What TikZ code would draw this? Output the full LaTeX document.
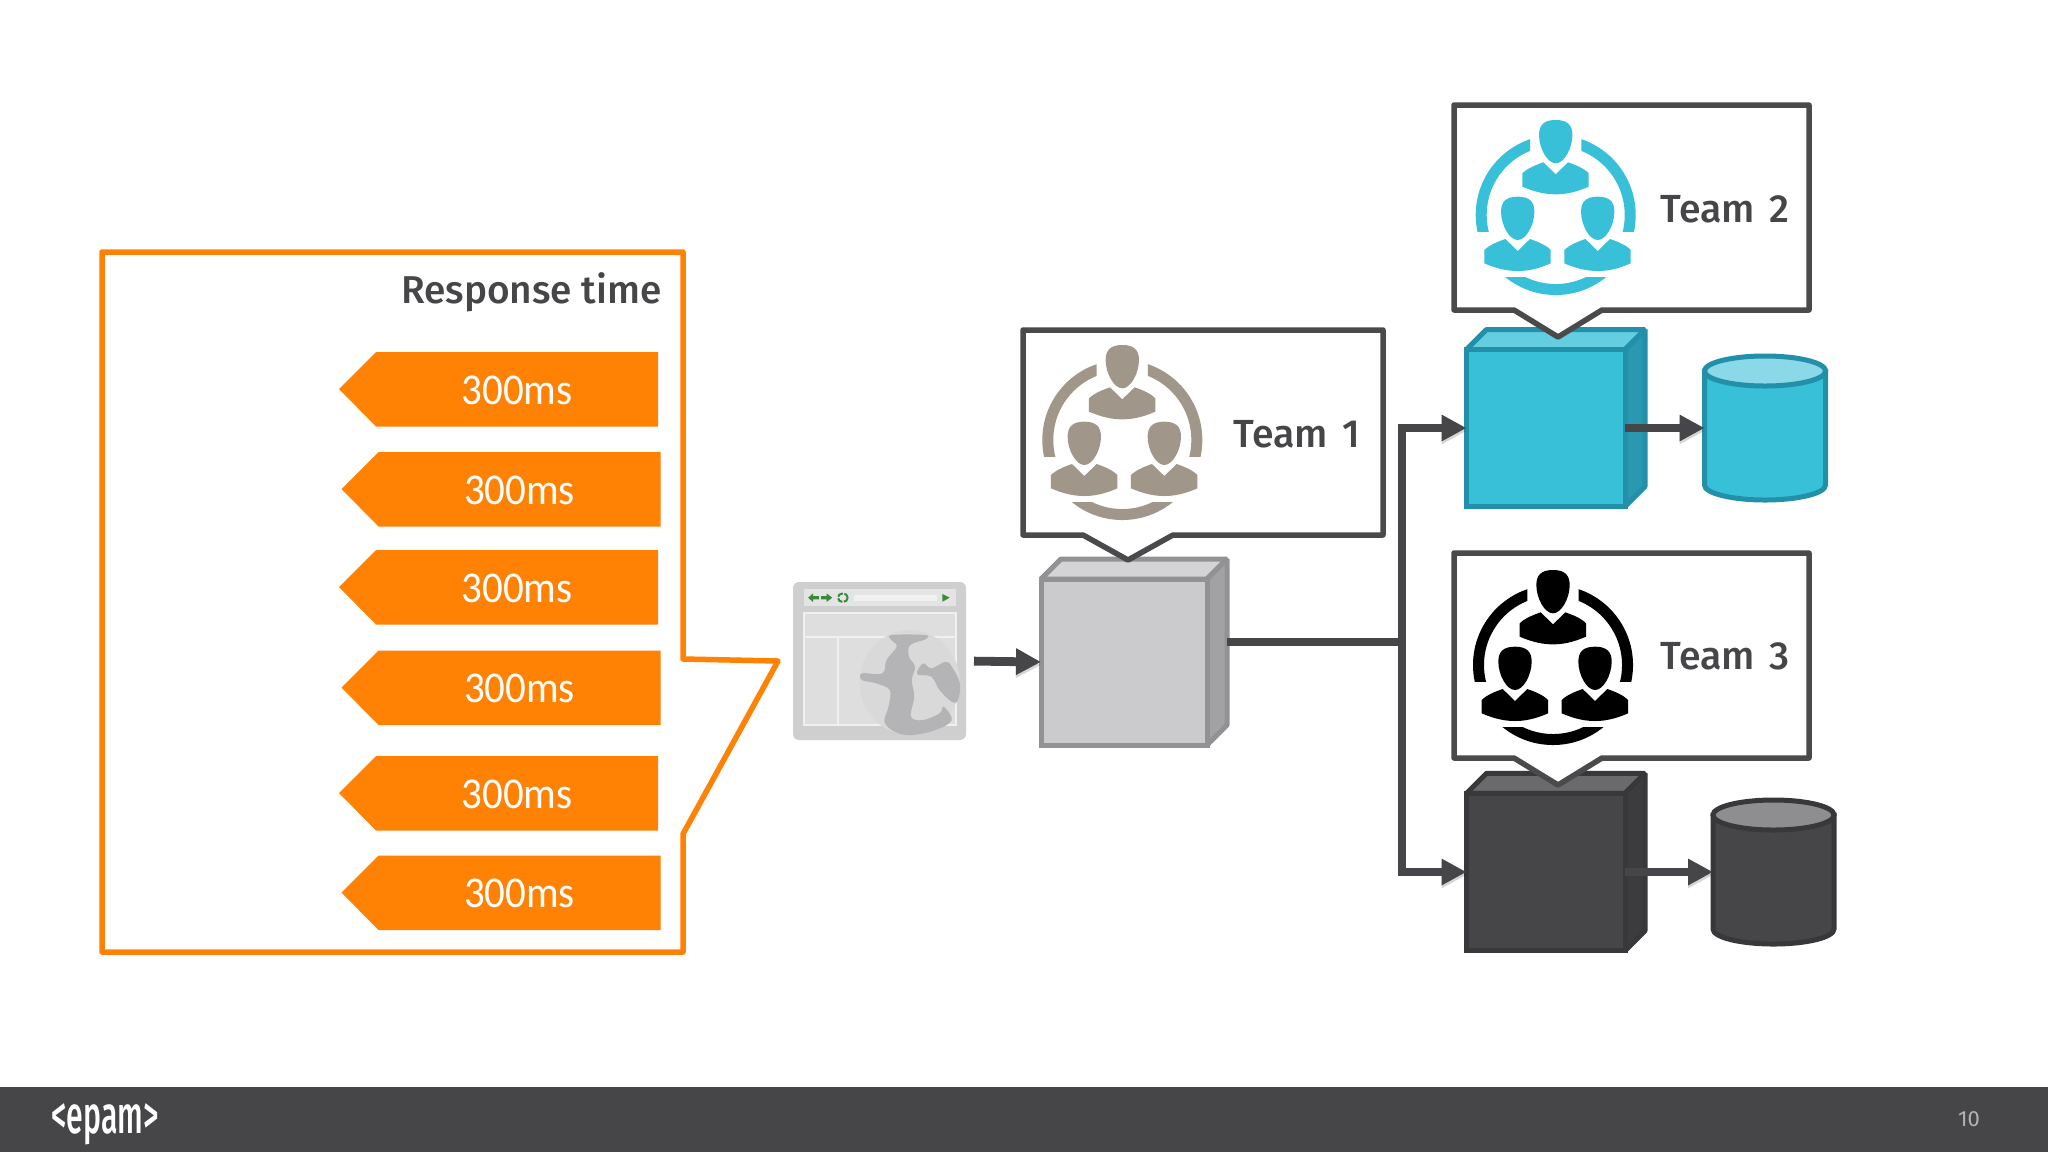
\documentclass[tikz,border=0pt]{standalone}
\usepackage{fontspec}
\setmainfont{Carlito}
\newfontfamily\headf{Fira Sans Medium}
\newfontfamily\logof{Fira Sans Medium}
\newfontfamily\numf{Fira Sans}
\usetikzlibrary{arrows.meta,calc}
\definecolor{inkc}{HTML}{464547}
\definecolor{orangec}{HTML}{FF8205}
\definecolor{linec}{HTML}{4A4A4C}
\definecolor{teamgray}{HTML}{A0978A}
\definecolor{teamcyan}{HTML}{38C0D9}
\definecolor{gfront}{HTML}{CBCACC}
\definecolor{gtop}{HTML}{D4D4D6}
\definecolor{gside}{HTML}{A2A2A4}
\definecolor{gstroke}{HTML}{929294}
\definecolor{cfront}{HTML}{38C0D9}
\definecolor{ctop}{HTML}{64CDE0}
\definecolor{cside}{HTML}{2A98AE}
\definecolor{cstroke}{HTML}{2190A8}
\definecolor{cdrumtop}{HTML}{8AD8E8}
\definecolor{dfront}{HTML}{464547}
\definecolor{dtop}{HTML}{6A696B}
\definecolor{dside}{HTML}{3C3B3D}
\definecolor{dstroke}{HTML}{38373A}
\definecolor{ddrumtop}{HTML}{8E8E90}
\definecolor{bwin}{HTML}{CFCFD0}
\definecolor{bbar}{HTML}{E4E4E4}
\definecolor{bpanel}{HTML}{DEDEDF}
\definecolor{bline}{HTML}{F0F0F0}
\definecolor{bgreen}{HTML}{3A8A3A}
\definecolor{bglobe}{HTML}{D9D9DA}
\definecolor{bland}{HTML}{B4B4B6}
\tikzset{
  x=.5pt,y=-.5pt,
  flow/.style={draw=inkc,line width=4.4pt,preaction={draw=black,opacity=.16,transform canvas={yshift=-1.5pt}}},
  flowtip/.style={flow,-{Triangle[length=12.5pt,width=12.5pt]}},
  bubble/.style={draw=linec,fill=white,line width=2.75pt,line join=round},
  facebox/.style={rectangle,draw,line width=2.5pt,outer sep=0pt,inner sep=0pt},
  cubepart/.style={line width=2.5pt,line join=bevel},
  holder/.style={rectangle,outer sep=0pt,inner sep=0pt},
  chip/.style={fill=orangec},
  chiptext/.style={text=white,anchor=base,inner sep=0pt,xscale=.93,font=\fontsize{22}{26}\selectfont},
  teamtext/.style={text=inkc,anchor=base west,inner sep=0pt,font=\headf\fontsize{19.6}{24}\selectfont},
}
% cube: name, cx, cy, w, h, dx, dy, front, top, side, stroke
\newcommand\cube[9]{%
  \filldraw[cubepart,draw=#9,fill=#7] ($(#2)+(-#3/2,-#4/2)$) -- ++(20,-20) -- ++(#3,0) -- ++(-20,20) -- cycle;
  \filldraw[cubepart,draw=#9,fill=#8] ($(#2)+(#3/2,-#4/2)$) -- ++(20,-20) -- ++(0,#4) -- ++(-20,20) -- cycle;
  \node[facebox,draw=#9,fill=#6,minimum width=#3*.5pt,minimum height=#4*.5pt] (#1) at (#2) {};
}
% drum: name, centre, fill, top, stroke
\newcommand\drum[5]{%
  \node[holder,minimum width=60.5pt,minimum height=72pt] (#1) at (#2) {};
  \begin{scope}[shift={(#2)}]
    \filldraw[draw=#5,fill=#3,line width=2.5pt] (-60.5,-57) -- (-60.5,57) .. controls (-60.5,65.3) and (-33.4,72) .. (0,72) .. controls (33.4,72) and (60.5,65.3) .. (60.5,57) -- (60.5,-57) -- cycle;
    \filldraw[draw=#5,fill=#4,line width=2.5pt] (-60.5,-57) .. controls (-60.5,-65.3) and (-33.4,-72) .. (0,-72) .. controls (33.4,-72) and (60.5,-65.3) .. (60.5,-57) .. controls (60.5,-48.7) and (33.4,-42) .. (0,-42) .. controls (-33.4,-42) and (-60.5,-48.7) .. (-60.5,-57) -- cycle;
  \end{scope}
}
% person in zoom units, origin at head top
\newcommand\person[3]{%
  \begin{scope}[shift={(#1,#2)}]
    \fill[#3] (0,0) .. controls (-35,0) and (-50,15) .. (-50,45) .. controls (-50,85) and (-25,130) .. (0,130) .. controls (25,130) and (50,85) .. (50,45) .. controls (50,15) and (35,0) .. (0,0) -- cycle;
    \fill[#3] (-100,160) .. controls (-85,145) and (-60,135) .. (-37,127) -- (0,163) -- (37,127) .. controls (60,135) and (85,145) .. (99,160) -- (99,200) .. controls (60,217) and (30,223) .. (0,223) .. controls (-30,223) and (-60,217) .. (-100,200) -- cycle;
  \end{scope}
}
% team icon centred on ring centre
\newcommand\teamicon[2]{%
  \begin{scope}[shift={(#1)},x=.1667pt,y=-.1667pt]
    \begin{scope}\clip (-250,-250) rectangle (-77,50);
      \fill[#2,even odd rule] (0,0) circle[radius=240] (0,0) circle[radius=207];\end{scope}
    \begin{scope}\clip (77,-250) rectangle (250,50);
      \fill[#2,even odd rule] (0,0) circle[radius=240] (0,0) circle[radius=207];\end{scope}
    \begin{scope}\clip (-250,188) rectangle (250,250);
      \fill[#2,even odd rule] (0,0) circle[radius=240] (0,0) circle[radius=207];\end{scope}
    \person{0}{-285}{#2}
    \person{-114}{-55}{#2}
    \person{126}{-55}{#2}
  \end{scope}
}
% speech bubble: left, right, top, bottom, tail tip x, tail left x, tail right x, tip y
\newcommand\speech[8]{%
  \filldraw[bubble] (#1,#3) -- (#2,#3) -- (#2,#4) -- (#7,#4) -- (#5,#8) -- (#6,#4) -- (#1,#4) -- cycle;
}
% orange tag: name, tip x, top y
\newcommand\timechip[3]{%
  \begin{scope}[shift={(#2,#3)}]
    \fill[chip] (0,37) -- (37,0) -- (319,0) -- (319,74.5) -- (37,74.5) -- cycle;
    \node[chiptext] (#1) at (178,52) {300ms};
  \end{scope}
}
\begin{document}
\begin{tikzpicture}
\useasboundingbox (0,0) rectangle (2048,1152);
\fill[white] (0,0) rectangle (2048,1152);

% response-time callout
\draw[draw=orangec,line width=2.75pt,line join=round,fill=white]
  (102,252) -- (683,252) -- (683,659) -- (778,661) -- (683,834) -- (683,952) -- (102,952) -- cycle;
\node[text=inkc,anchor=base east,inner sep=0pt,font=\headf\fontsize{19.4}{24}\selectfont] (rt) at (662,303) {Response time};
\timechip{c1}{339}{352}
\timechip{c2}{341.5}{452}
\timechip{c3}{339}{550}
\timechip{c4}{341.5}{650.5}
\timechip{c5}{339}{756}
\timechip{c6}{341.5}{855.5}

% browser
\node[holder,draw=none,fill=bwin,rounded corners=3pt,minimum width=86.5pt,minimum height=79pt] (browser) at (879.5,661) {};
\begin{scope}[shift={(760,520)},x=.204pt,y=-.1667pt]
  \fill[bbar] (108,208) rectangle (480,258);
  \fill[bline] (230,225) rectangle (435,243);
  \fill[bgreen] (118,233) -- (130,220) -- (130,228) -- (145,228) -- (145,238) -- (130,238) -- (130,246) -- cycle;
  \fill[bgreen] (177,233) -- (163,220) -- (163,228) -- (150,228) -- (150,238) -- (163,238) -- (163,246) -- cycle;
  \draw[bgreen,line width=1pt,dash pattern=on 3pt off .8pt] (203,233) ellipse[x radius=12,y radius=13];
  \fill[bgreen] (447,222) -- (465,233) -- (447,245) -- cycle;
  \filldraw[draw=bline,fill=bpanel,line width=1pt] (108,278) rectangle (480,615);
  \draw[bline,line width=1pt] (108,352) -- (480,352) (190,352) -- (190,615);
  \fill[bglobe] (367,487) ellipse[x radius=123,y radius=157];
  \fill[bland] plot[smooth cycle,tension=.6] coordinates {(322,345) (405,345) (405,358) (368,375) (365,410) (380,440) (372,480) (378,530) (370,590) (400,600) (440,580) (450,560) (470,600) (430,630) (370,645) (330,635) (305,605) (315,560) (318,510) (285,490) (250,480) (250,460) (300,460) (310,420) (335,380) (322,360)};
  \fill[bland] plot[smooth cycle,tension=.6] coordinates {(400,430) (420,445) (455,425) (470,440) (490,490) (485,540) (470,545) (440,510) (420,470) (385,462)};
\end{scope}

% servers
\cube{box1}{1124,662}{166}{166}{20}{gfront}{gtop}{gside}{gstroke}
\cube{box2}{1545.75,428}{158.5}{157}{20}{cfront}{ctop}{cside}{cstroke}
\cube{box3}{1545.75,872}{158.5}{157.5}{20}{dfront}{dtop}{dside}{dstroke}
\drum{db2}{1765,428}{cfront}{cdrumtop}{cstroke}
\drum{db3}{1773.5,872}{dfront}{ddrumtop}{dstroke}

% speech bubbles
\speech{1023}{1383}{330}{535}{1128}{1083}{1173}{560}
\speech{1454}{1809}{105}{310}{1558}{1514}{1602}{337}
\speech{1454}{1809}{553}{758}{1558}{1514}{1602}{785}
\teamicon{1122.3,440}{teamgray}
\teamicon{1555.7,215}{teamcyan}
\teamicon{1553,665}{black}
\node[teamtext] (t1) at (1233,447) {Team\hskip7.2pt 1};
\node[teamtext] (t2) at (1660,222) {Team\hskip7.2pt 2};
\node[teamtext] (t3) at (1660,669) {Team\hskip7.2pt 3};

% connectors
\coordinate (b1out) at (1227,642);
\coordinate (split) at (1402,642);
\draw[flowtip,shorten <=4pt] (browser.east) -- (box1.west);
\draw[flow] (b1out) -- (split);
\draw[flowtip] (split) |- (box2.west);
\draw[flowtip] (split) |- (box3.west);
\draw[flowtip] (box2.east) -- (db2.west);
\draw[flowtip] (box3.east) -- (db3.west);

% footer
\fill[inkc] (0,1087) rectangle (2048,1152);
\node[text=white,inner sep=0pt,xscale=.57,anchor=base,font=\logof\fontsize{26.5}{30}\selectfont] (logo) at (105,1133) {<epam>};
\node[text=gray!60,inner sep=0pt,font=\numf\fontsize{11}{14}\selectfont] (pg) at (1969,1119) {10};
\end{tikzpicture}
\end{document}
